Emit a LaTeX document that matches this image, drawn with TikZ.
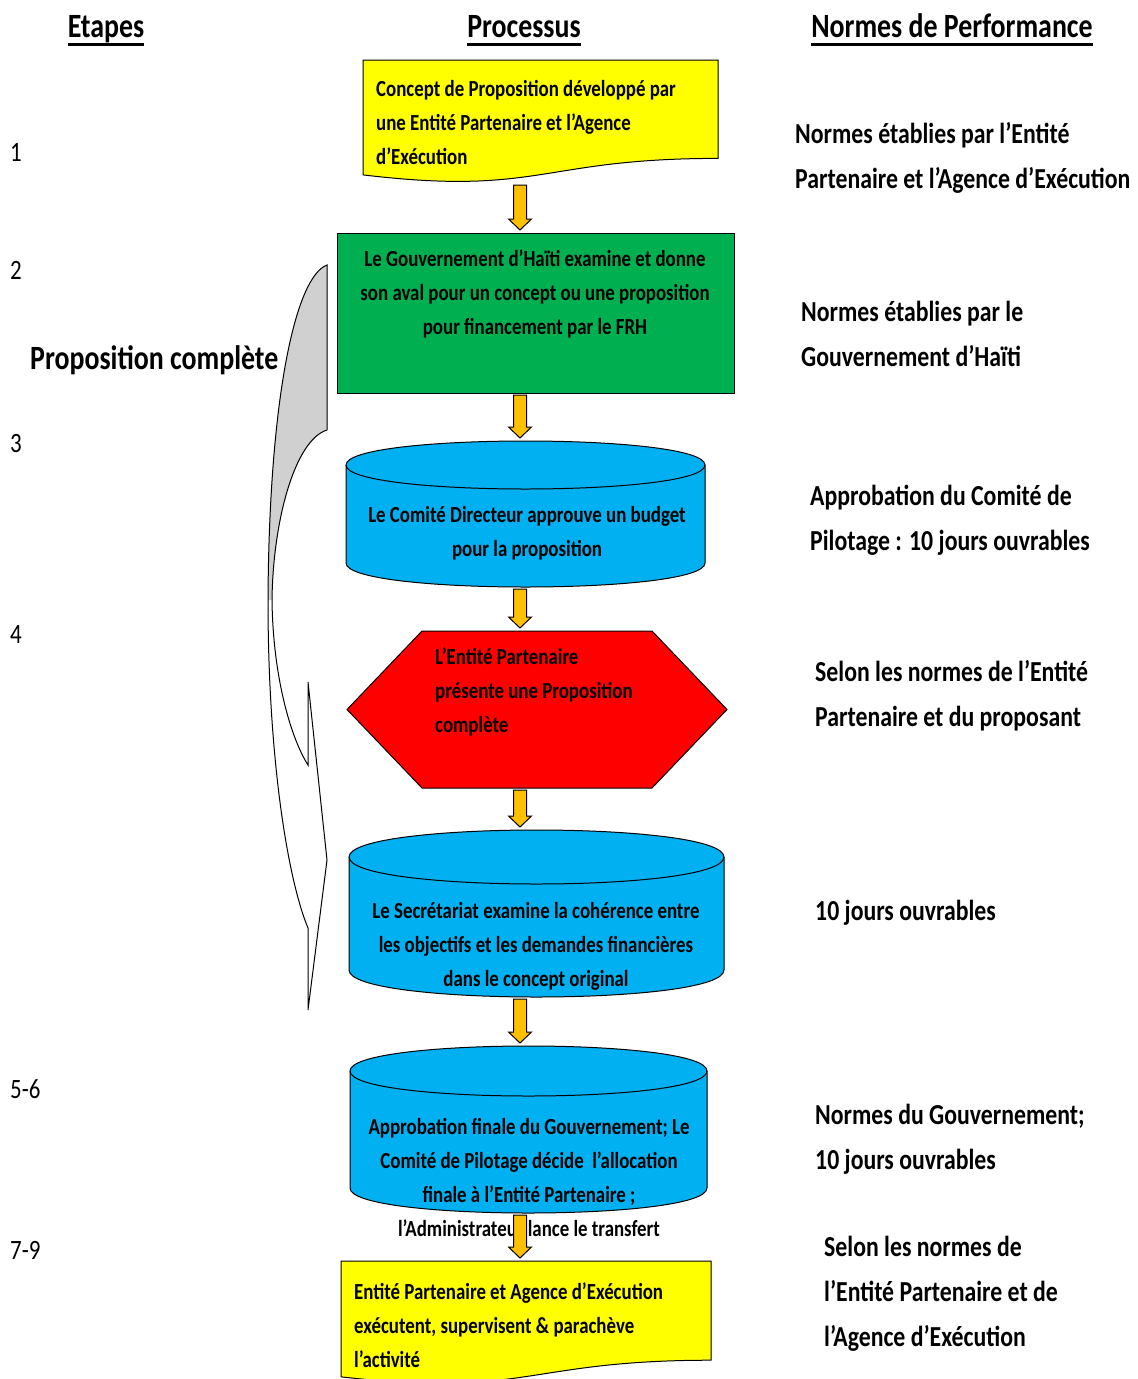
\documentclass[tikz,border=0pt]{standalone}
\usepackage{fontspec}
\setmainfont{Carlito}[FakeStretch=0.82]
\usetikzlibrary{calc}

\definecolor{docyellow}{HTML}{FFFF00}
\definecolor{govgreen}{HTML}{00B050}
\definecolor{drumblue}{HTML}{00B0F0}
\definecolor{hexred}{HTML}{FF0000}
\definecolor{arroworange}{HTML}{FFC000}
\definecolor{backgrey}{HTML}{D0D0D0}

\newcommand{\ulhead}[1]{\setbox0\hbox{#1}\rlap{\rule[-9pt]{\wd0}{3pt}}\box0}

\newcommand{\docshape}[1]{%
  \filldraw[docbox] (#1.north west) -- (#1.north east) -- ($(#1.north east)!0.8!(#1.south east)$)
    .. controls ($(#1.north)!0.8!(#1.south)$) and ($(#1.north)!1.107!(#1.south)$) .. ($(#1.north west)!0.934!(#1.south west)$) -- cycle;}

\newcommand{\drum}[2]{%
  \filldraw[drumbox] ($(#1.north west)+(0,#2)$) -- ($(#1.south west)+(0,-#2)$)
    .. controls ($(#1.south west)+(0,#2/3)$) and ($(#1.south east)+(0,#2/3)$) .. ($(#1.south east)+(0,-#2)$)
    -- ($(#1.north east)+(0,#2)$)
    .. controls ($(#1.north east)+(0,-#2/3)$) and ($(#1.north west)+(0,-#2/3)$) .. ($(#1.north west)+(0,#2)$) -- cycle;
  \draw[line width=1pt] ($(#1.north west)+(0,#2)$)
    .. controls ($(#1.north west)+(0,7*#2/3)$) and ($(#1.north east)+(0,7*#2/3)$) .. ($(#1.north east)+(0,#2)$);}

\newcommand{\flowarrow}[2]{%
  \filldraw[flow] ($(#1.south -| axis)+(-6.5,2)$) -- ($(#2.north -| axis)+(-6.5,-14)$) -- ($(#2.north -| axis)+(-11.5,-14)$)
    -- ($(#2.north -| axis)+(0,-3)$) -- ($(#2.north -| axis)+(11.5,-14)$) -- ($(#2.north -| axis)+(6.5,-14)$)
    -- ($(#1.south -| axis)+(6.5,2)$) -- cycle;}

\begin{document}
\begin{tikzpicture}[x=1pt, y=-1pt,
    frame/.style={inner sep=0pt, outer sep=0pt},
    docbox/.style={fill=docyellow, draw=black, line width=1pt},
    govbox/.style={frame, fill=govgreen, draw=black, line width=1pt},
    drumbox/.style={fill=drumblue, draw=black, line width=1pt},
    hexbox/.style={fill=hexred, draw=black, line width=1pt},
    flow/.style={fill=arroworange, draw=black, line width=1pt},
    boxtext/.style={font=\fontsize{23}{34}\selectfont\bfseries, inner sep=0pt},
    normtext/.style={font=\fontsize{29}{45}\selectfont\bfseries, align=left, anchor=west, inner sep=0pt},
    steptext/.style={font=\fontsize{28}{34}\selectfont, anchor=base west, inner sep=0pt},
    headtext/.style={font=\fontsize{34}{40}\selectfont\bfseries, anchor=base, inner sep=0pt}
]
    \useasboundingbox (0,0) rectangle (1138,1379);
    \coordinate (axis) at (520,0);

    \node[headtext] (etapes) at (106,37) {\ulhead{Etapes}};
    \node[headtext] (processus) at (524,37) {\ulhead{Processus}};
    \node[headtext] (normes) at (952,37) {\ulhead{Normes de Performance}};

    \node[steptext] (s1) at (10,161) {1};
    \node[steptext] (s2) at (10,279) {2};
    \node[steptext] (s3) at (10,452) {3};
    \node[steptext] (s4) at (10,643) {4};
    \node[steptext] (s56) at (10,1098) {5-6};
    \node[steptext] (s79) at (10,1259) {7-9};

    \fill[backgrey] (327,265) .. controls (295,277) and (269,400) .. (268,600) -- (272,600)
        .. controls (273,520) and (295,440) .. (327,430) -- cycle;
    \draw[line width=1pt] (327,430) -- (327,265) .. controls (295,277) and (269,400) .. (268,600)
        .. controls (268,760) and (288,880) .. (308,928) -- (308,1010) -- (327,860) -- (308,682) -- (308,765)
        .. controls (292,740) and (273,680) .. (272,600) .. controls (273,520) and (295,440) .. (327,430);
    \node[anchor=west, inner sep=0pt, font=\fontsize{34}{40}\selectfont\bfseries] (complete) at (30,360) {Proposition complète};

    \node[frame, minimum width=355pt, minimum height=123pt] (concept) at (540.5,121.5) {};
    \node[govbox, minimum width=397pt, minimum height=160pt] (gouv) at (535.5,313) {};
    \node[frame, minimum width=359pt, minimum height=146pt] (comite) at (525.5,514) {};
    \node[frame, minimum width=380pt, minimum height=157pt] (entite) at (537,709.5) {};
    \node[frame, minimum width=375pt, minimum height=167pt] (secretariat) at (536.5,913.5) {};
    \node[frame, minimum width=357pt, minimum height=167pt] (approb) at (528.5,1129.5) {};
    \node[frame, minimum width=370pt, minimum height=124pt] (execution) at (526,1323) {};

    \docshape{concept}
    \drum{comite}{24}
    \filldraw[hexbox] (entite.west) -- ($(entite.north west)+(75,0)$) -- ($(entite.north east)+(-75,0)$) -- (entite.east)
        -- ($(entite.south east)+(-75,0)$) -- ($(entite.south west)+(75,0)$) -- cycle;
    \drum{secretariat}{27}
    \drum{approb}{25}
    \docshape{execution}

    \node[boxtext, align=left, anchor=west] (conceptText) at (376,122) {Concept de Proposition développé par\\une Entité Partenaire et l’Agence\\d’Exécution};
    \node[boxtext, align=center] (gouvText) at (535,294) {Le Gouvernement d’Haïti examine et donne\\son aval pour un concept ou une proposition\\pour financement par le FRH};
    \node[boxtext, align=center] (comiteText) at (527,533) {Le Comité Directeur approuve un budget\\pour la proposition};
    \node[boxtext, align=left, anchor=west] (entiteText) at (435,692) {L’Entité Partenaire\\présente une Proposition\\complète};
    \node[boxtext, align=center] (secretariatText) at (536,946) {Le Secrétariat examine la cohérence entre\\les objectifs et les demandes financières\\dans le concept original};
    \node[boxtext, align=center] (approbText) at (529,1177.5) {Approbation finale du Gouvernement; Le\\Comité de Pilotage décide~ l’allocation\\finale à l’Entité Partenaire ;\\l’Administrateur lance le transfert};
    \node[boxtext, align=left, anchor=west] (executionText) at (354,1325) {Entité Partenaire et Agence d’Exécution\\exécutent, supervisent \& parachève\\l’activité};

    \flowarrow{concept}{gouv}
    \flowarrow{gouv}{comite}
    \flowarrow{comite}{entite}
    \flowarrow{entite}{secretariat}
    \flowarrow{secretariat}{approb}
    \flowarrow{approb}{execution}

    \node[normtext] (norm1) at (795,157.5) {Normes établies par l’Entité\\Partenaire et l’Agence d’Exécution};
    \node[normtext] (norm2) at (801,333.5) {Normes établies par le\\Gouvernement d’Haïti};
    \node[normtext] (norm3) at (810,520) {Approbation du Comité de\\Pilotage : 10 jours ouvrables};
    \node[normtext] (norm4) at (815,696) {Selon les normes de l’Entité\\Partenaire et du proposant};
    \node[normtext] (norm5) at (815,913) {10 jours ouvrables};
    \node[normtext] (norm56) at (815,1139.5) {Normes du Gouvernement;\\10 jours ouvrables};
    \node[normtext] (norm79) at (824,1293.5) {Selon les normes de\\l’Entité Partenaire et de\\l’Agence d’Exécution};
\end{tikzpicture}
\end{document}
